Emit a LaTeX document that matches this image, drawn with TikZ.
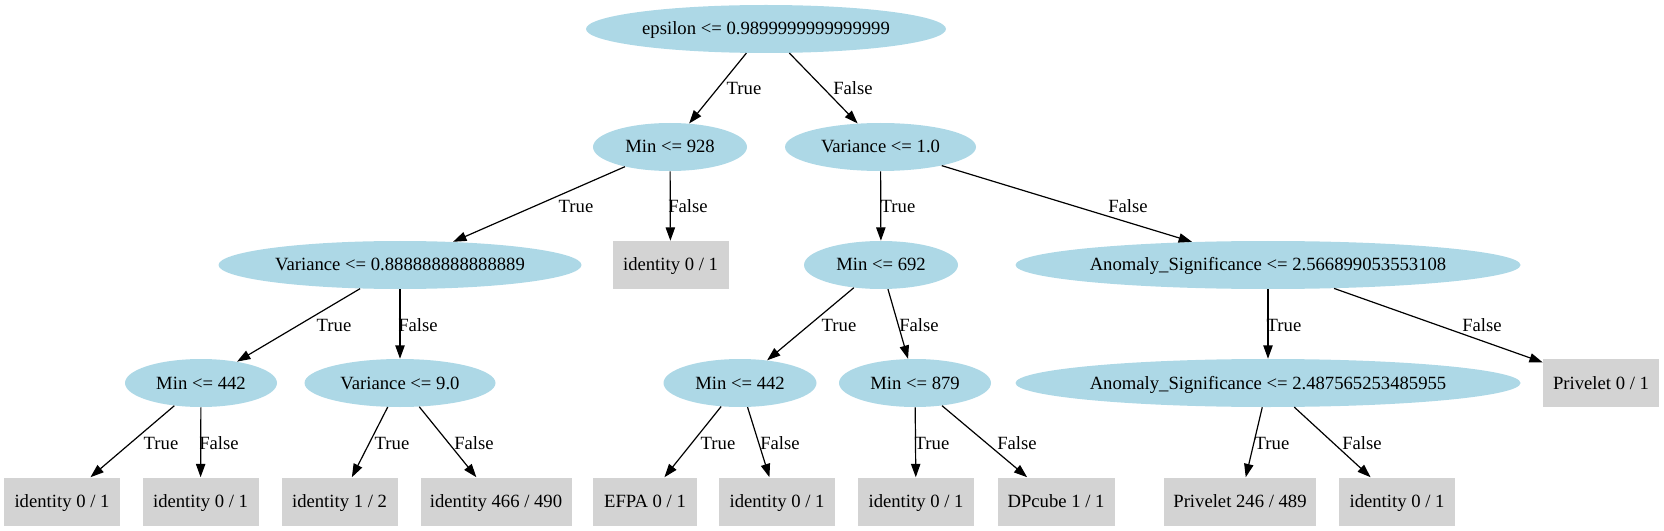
\documentclass[tikz,border=0pt]{standalone}
\usepackage{fontspec}
\setmainfont{Liberation Serif}
\usetikzlibrary{shapes.geometric,arrows.meta}
\definecolor{lblue}{RGB}{173,216,230}
\definecolor{lgrey}{RGB}{211,211,211}
\begin{document}
\begin{tikzpicture}[x=0.75pt,y=-0.75pt,
  font=\rmfamily\fontsize{14}{16}\selectfont,
  dec/.style={ellipse, fill=lblue, inner sep=0pt, minimum height=36pt, text height=12pt, text depth=3pt},
  leaf/.style={rectangle, fill=lgrey, inner sep=0pt, minimum height=36pt, text height=12pt, text depth=3pt},
  edge/.style={draw=black, line width=0.9pt, -{Triangle[length=10pt,width=7pt]}},
  lab/.style={anchor=base, inner sep=0pt}]
\useasboundingbox (0,0) rectangle (1664,531);
% decision nodes
\node[dec, minimum width=270pt]    (root)  at (766,29)   {epsilon <= 0.9899999999999999};
\node[dec, minimum width=115.5pt]  (m928)  at (670,147)  {Min <= 928};
\node[dec, minimum width=143.25pt] (v1)    at (880.5,147) {Variance <= 1.0};
\node[dec, minimum width=272.25pt] (v888)  at (400,265)  {Variance <= 0.888888888888889};
\node[leaf, minimum width=87pt]    (id1)   at (670.5,265) {identity 0 / 1};
\node[dec, minimum width=115.5pt]  (m692)  at (881,265)  {Min <= 692};
\node[dec, minimum width=378.75pt] (an1)   at (1268,265) {Anomaly\_Significance <= 2.566899053553108};
\node[dec, minimum width=114pt]    (m442a) at (201,383)  {Min <= 442};
\node[dec, minimum width=143.25pt] (v9)    at (400,383)  {Variance <= 9.0};
\node[dec, minimum width=114.75pt] (m442b) at (740,383)  {Min <= 442};
\node[dec, minimum width=114pt]    (m879)  at (915,383)  {Min <= 879};
\node[dec, minimum width=378.75pt] (an2)   at (1268,383) {Anomaly\_Significance <= 2.487565253485955};
\node[leaf, minimum width=87pt]    (pv1)   at (1601,383) {Privelet 0 / 1};
% leaves
\node[leaf, minimum width=87pt]     (b1)  at (62,501.5)   {identity 0 / 1};
\node[leaf, minimum width=87pt]     (b2)  at (200.5,501.5) {identity 0 / 1};
\node[leaf, minimum width=87pt]     (b3)  at (339.5,501.5) {identity 1 / 2};
\node[leaf, minimum width=113.25pt] (b4)  at (496,501.5)  {identity 466 / 490};
\node[leaf, minimum width=78pt]     (b5)  at (645,501.5)  {EFPA 0 / 1};
\node[leaf, minimum width=87pt]     (b6)  at (777,501.5)  {identity 0 / 1};
\node[leaf, minimum width=87pt]     (b7)  at (916,501.5)  {identity 0 / 1};
\node[leaf, minimum width=87.75pt]  (b8)  at (1056,501.5) {DPcube 1 / 1};
\node[leaf, minimum width=114pt]    (b9)  at (1240,501.5) {Privelet 246 / 489};
\node[leaf, minimum width=87pt]     (b10) at (1397,501.5) {identity 0 / 1};
% edges
\draw[edge] (root) -- (m928);
\draw[edge] (root) -- (v1);
\draw[edge] (m928) -- (v888);
\draw[edge] (m928) -- (id1);
\draw[edge] (v1) -- (m692);
\draw[edge] (v1) -- (an1);
\draw[edge] (v888) -- (m442a);
\draw[edge] (v888) -- (v9);
\draw[edge] (m692) -- (m442b);
\draw[edge] (m692) -- (m879);
\draw[edge] (an1) -- (an2);
\draw[edge] (an1) -- (pv1);
\draw[edge] (m442a) -- (b1);
\draw[edge] (m442a) -- (b2);
\draw[edge] (v9) -- (b3);
\draw[edge] (v9) -- (b4);
\draw[edge] (m442b) -- (b5);
\draw[edge] (m442b) -- (b6);
\draw[edge] (m879) -- (b7);
\draw[edge] (m879) -- (b8);
\draw[edge] (an2) -- (b9);
\draw[edge] (an2) -- (b10);
% edge labels
\node[lab] (t1)  at (744,95)  {True};
\node[lab] (f1)  at (853,95)  {False};
\node[lab] (t2)  at (576,213) {True};
\node[lab] (f2)  at (688,213) {False};
\node[lab] (t3)  at (898,213) {True};
\node[lab] (f3)  at (1128,213) {False};
\node[lab] (t4)  at (334,331) {True};
\node[lab] (f4)  at (418,331) {False};
\node[lab] (t5)  at (839,331) {True};
\node[lab] (f5)  at (919,331) {False};
\node[lab] (t6)  at (1284,331) {True};
\node[lab] (f6)  at (1482,331) {False};
\node[lab] (t7)  at (161,449) {True};
\node[lab] (f7)  at (219,449) {False};
\node[lab] (t8)  at (392,449) {True};
\node[lab] (f8)  at (474,449) {False};
\node[lab] (t9)  at (718,449) {True};
\node[lab] (f9)  at (780,449) {False};
\node[lab] (t10) at (932,449) {True};
\node[lab] (f10) at (1017,449) {False};
\node[lab] (t11) at (1272,449) {True};
\node[lab] (f11) at (1362,449) {False};
\end{tikzpicture}
\end{document}
